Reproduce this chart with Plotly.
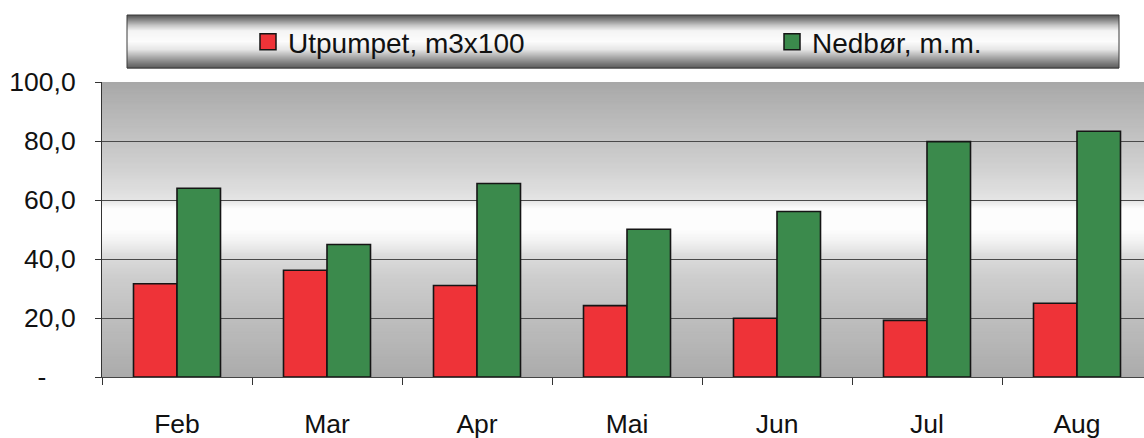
import plotly.graph_objects as go

# ---- data -------------------------------------------------------------
months = ["Feb", "Mar", "Apr", "Mai", "Jun", "Jul", "Aug"]
utpumpet = [31.6, 36.2, 31.0, 24.2, 19.9, 19.2, 25.0]   # m3 x 100
nedbor = [64.0, 44.9, 65.6, 50.1, 56.1, 79.8, 83.3]     # mm
series_names = ["Utpumpet, m3x100", "Nedbør, m.m."]
y_tick_vals = [0, 20, 40, 60, 80, 100]
y_tick_text = ["-\u00a0\u00a0\u00a0\u00a0", "20,0", "40,0", "60,0", "80,0", "100,0"]

# ---- geometry / style -------------------------------------------------
W, H = 1144, 438
ML, MR, MT, MB = 102, 0, 82, 61
PW, PH = W - ML - MR, H - MT - MB
CAT_PX = 150                      # width of one category slot in px
FONT = "Liberation Sans, Arial, sans-serif"
RED, GREEN = "#ee3338", "#3b8a4c"


def px_x(px):
    return (px - ML) / PW


def px_y(py):
    return (H - MB - py) / PH


def gray(v):
    v = max(0, min(255, int(round(v))))
    return f"rgb({v},{v},{v})"


def interp(stops, t):
    for (t0, v0), (t1, v1) in zip(stops, stops[1:]):
        if t0 <= t <= t1:
            return v0 + (v1 - v0) * (t - t0) / (t1 - t0)
    return stops[-1][1]


shapes = []

# plot-area background: grey at top and bottom, bright band in the middle
bg_stops = [(0.00, 0xab), (0.20, 0xbe), (0.35, 0xcf), (0.41, 0xdc),
            (0.46, 0xf2), (0.50, 0xfd), (0.57, 0xfd), (0.60, 0xe4),
            (0.70, 0xd2), (0.80, 0xc4), (0.90, 0xb6), (1.00, 0xa8)]
n_bg = 200
for i in range(n_bg):
    f0 = i / n_bg
    f1 = min(1.0, (i + 1.6) / n_bg)
    shapes.append(dict(type="rect", xref="paper", yref="paper",
                       x0=0, x1=1, y0=f0, y1=f1, layer="below",
                       line=dict(width=0),
                       fillcolor=gray(interp(bg_stops, (i + 0.5) / n_bg))))

# cylinder-shaded legend box
LB_X0, LB_X1, LB_Y0, LB_Y1 = 127, 1119, 15, 68
lg_stops = [(0.00, 0x50), (0.08, 0x80), (0.20, 0xc8), (0.30, 0xf4),
            (0.50, 0xfc), (0.65, 0xe6), (0.80, 0xa8), (0.92, 0x78),
            (1.00, 0x5c)]
n_lg = LB_Y1 - LB_Y0
for i in range(n_lg):
    shapes.append(dict(type="rect", xref="paper", yref="paper",
                       x0=px_x(LB_X0), x1=px_x(LB_X1),
                       y0=px_y(LB_Y0 + i + 1.4), y1=px_y(LB_Y0 + i),
                       line=dict(width=0), layer="below",
                       fillcolor=gray(interp(lg_stops, (i + 0.5) / n_lg))))
shapes.append(dict(type="rect", xref="paper", yref="paper",
                   x0=px_x(LB_X0), x1=px_x(LB_X1),
                   y0=px_y(LB_Y1), y1=px_y(LB_Y0), layer="below",
                   line=dict(width=1, color="#3a3a3a"),
                   fillcolor="rgba(0,0,0,0)"))

fig = go.Figure()
for name, vals, col, lg in [(series_names[0], utpumpet, RED, "legend"),
                            (series_names[1], nedbor, GREEN, "legend2")]:
    fig.add_trace(go.Bar(x=months, y=vals, name=name, showlegend=False,
                         marker=dict(color=col,
                                     line=dict(color="#151515", width=1.6))))
    # legend entry with a larger square swatch
    fig.add_trace(go.Scatter(x=[None], y=[None], mode="markers", name=name,
                             legend=lg,
                             marker=dict(symbol="square", size=20, color=col,
                                         line=dict(color="#151515", width=1.5))))


def legend_at(px_left):
    return dict(orientation="h", x=px_x(px_left), xanchor="left",
                y=px_y(42), yanchor="middle",
                bgcolor="rgba(0,0,0,0)", borderwidth=0,
                font=dict(size=28, family=FONT, color="#111111"))


fig.update_layout(
    width=W, height=H,
    margin=dict(l=ML, r=MR, t=MT, b=MB, pad=0, autoexpand=False),
    paper_bgcolor="white",
    plot_bgcolor="rgba(0,0,0,0)",
    font=dict(family=FONT, color="#111111"),
    barmode="group", bargap=0.42, bargroupgap=0,
    shapes=shapes,
    showlegend=True,
    legend=legend_at(248),
    legend2=legend_at(772),
    xaxis=dict(type="category", categoryorder="array", categoryarray=months,
               range=[-0.5, -0.5 + PW / CAT_PX], automargin=False,
               showline=True, linecolor="#444444", linewidth=1,
               ticks="outside", tickson="boundaries", ticklen=7,
               tickcolor="#333333", tickwidth=1,
               showgrid=False, zeroline=False,
               tickfont=dict(size=26.5, family=FONT, color="#111111"),
               ticklabelstandoff=23, fixedrange=True),
    yaxis=dict(range=[0, 100], tickmode="array", tickvals=y_tick_vals,
               ticktext=y_tick_text, automargin=False,
               showline=True, linecolor="#333333", linewidth=1,
               ticks="outside", ticklen=6, tickcolor="#333333", tickwidth=1,
               showgrid=True, gridcolor="#4a4a4a", gridwidth=1,
               zeroline=False,
               tickfont=dict(size=26.5, family=FONT, color="#111111"),
               ticklabelstandoff=14, fixedrange=True),
)

fig.write_html("out.html", config={"displayModeBar": False})
